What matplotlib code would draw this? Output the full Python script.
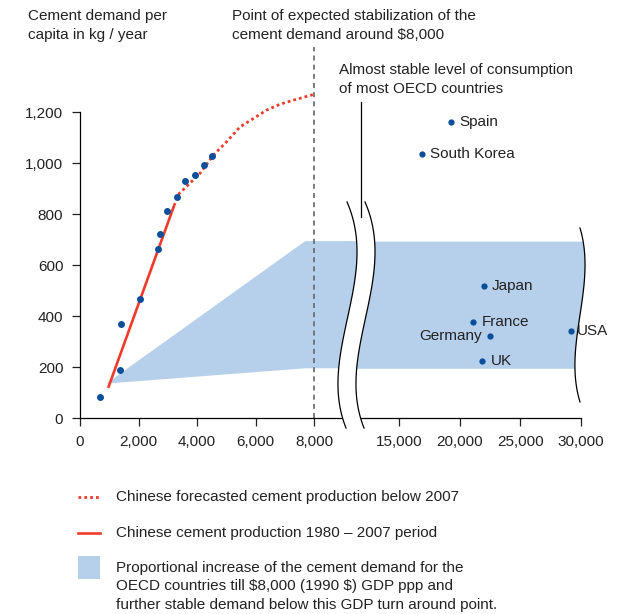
import numpy as np
import matplotlib
matplotlib.use('Agg')
import matplotlib.pyplot as plt
from matplotlib.lines import Line2D
from matplotlib.patches import Polygon, Rectangle
from matplotlib.transforms import Affine2D

plt.rcParams['font.family'] = ['Liberation Sans', 'DejaVu Sans']

# chinese data (GDP per capita, kg cement per capita)
china_gdp = [684, 1379, 1402, 2040, 2678, 2735, 2986, 3305, 3590, 3943, 4239, 4524]
china_demand = [82, 188, 370, 465, 665, 722, 813, 868, 931, 954, 993, 1026]
trend_gdp = [963, 3248]
trend_demand = [118, 843]
forecast_gdp = [3362, 4103, 4558, 5014, 5470, 5926, 6382, 6838, 7293, 7977]
forecast_demand = [877, 960, 1031, 1084, 1142, 1175, 1208, 1231, 1247, 1269]

# OECD band
band_gdp = [900, 7700, 32000]
band_low = [135, 195, 195]
band_high = [135, 694, 694]

# OECD countries
countries = ['Spain', 'South Korea', 'Japan', 'France', 'Germany', 'UK', 'USA']
oecd_gdp = [19287, 16896, 21983, 21100, 22527, 21843, 29204]
oecd_demand = [1161, 1035, 516, 375, 322, 224, 341]

left_ticks = [0, 2000, 4000, 6000, 8000]
right_ticks = [15000, 20000, 25000, 30000]
y_ticks = [0, 200, 400, 600, 800, 1000, 1200]
stab_point = 8000

RED = '#ee3b2b'
BLUE = '#0b4f9c'
BAND = '#b6cfeb'
W, H = 633, 614

fig = plt.figure(figsize=(W / 100, H / 100), dpi=100)
pix = Affine2D().scale(1 / W, -1 / H).translate(0, 1) + fig.transFigure

ax1 = fig.add_axes([80 / W, 1 - 418 / H, 278 / W, 339 / H])
ax2 = fig.add_axes([345 / W, 1 - 418 / H, 255 / W, 339 / H])
ax1.set_xlim(0, 278 / 29.25 * 1000)
ax2.set_xlim(30000 - 236 / 12.13 * 1000, 30000 + 19 / 12.13 * 1000)
for ax in (ax1, ax2):
    ax.set_ylim(0, 1330)
    ax.patch.set_alpha(0)
    for s in ('top', 'right'):
        ax.spines[s].set_visible(False)
    ax.spines['bottom'].set_linewidth(0.9)
    ax.tick_params(direction='out', length=6, width=0.9, labelsize=11, pad=6, colors='#222222')
    ax.fill_between(band_gdp, band_low, band_high, color=BAND, lw=0, zorder=1)

ax1.spines['left'].set_linewidth(0.9)
ax1.spines['left'].set_bounds(0, 1200)
ax1.set_yticks(y_ticks)
ax1.set_yticklabels(['{:,}'.format(v) for v in y_ticks])
ax1.set_xticks(left_ticks)
ax1.set_xticklabels(['{:,}'.format(v) for v in left_ticks])
ax2.spines['left'].set_visible(False)
ax2.set_yticks([])
ax2.spines['bottom'].set_bounds(ax2.get_xlim()[0], 30000)
ax2.set_xticks(right_ticks)
ax2.set_xticklabels(['{:,}'.format(v) for v in right_ticks])

# china
ax1.plot(trend_gdp, trend_demand, color=RED, lw=1.9, solid_capstyle='butt', zorder=3)
ax1.plot(forecast_gdp, forecast_demand, color=RED, lw=2, linestyle=(0, (1, 1.1)),
         clip_on=False, zorder=3)
ax1.plot(china_gdp, china_demand, 'o', color=BLUE, ms=5, mec='none', zorder=4)
ax1.plot([stab_point, stab_point], [0, 1455], color='#666666', lw=1.2,
         linestyle=(0, (3, 2.5)), clip_on=False, zorder=2)

# oecd points
ax2.plot(oecd_gdp, oecd_demand, 'o', color=BLUE, ms=4.5, mec='none', zorder=4, clip_on=False)
for name, gx, gy in zip(countries, oecd_gdp, oecd_demand):
    if name == 'Germany':
        ax2.annotate(name, (gx, gy), xytext=(-6, 0), textcoords='offset points',
                     ha='right', va='center', fontsize=11, color='#222222', zorder=5)
    else:
        ax2.annotate(name, (gx, gy), xytext=(6 if name != 'USA' else 4, 0), textcoords='offset points',
                     ha='left', va='center', fontsize=11, color='#222222', zorder=5,
                     annotation_clip=False)

# wavy right edge of the band
yy = np.linspace(228, 402, 80)
cw = np.polyfit([228, 262, 315, 360, 402], [580, 585, 580, 575, 580], 4)
xw = np.polyval(cw, yy)
cover = np.vstack([np.column_stack([xw, yy]), [[620, 402], [620, 228]]])
ax2.add_patch(Polygon(cover, closed=True, transform=pix, facecolor='white',
                      edgecolor='none', clip_on=False, zorder=2))
ax2.add_line(Line2D(xw, yy, transform=pix, color='black', lw=0.9, clip_on=False, zorder=3))

# axis break
yb = np.linspace(202, 428, 100)
cb = np.polyfit([202, 250, 318, 387, 428], [347, 357, 347.5, 338, 346], 4)
xl = np.polyval(cb, yb)
xr = xl + 18
gap = np.vstack([np.column_stack([xl, yb]), np.column_stack([xr[::-1], yb[::-1]])])
fig.add_artist(Polygon(gap, closed=True, transform=pix, facecolor='white',
                       edgecolor='none', zorder=5))
fig.add_artist(Line2D(xl, yb, transform=pix, color='black', lw=0.9, zorder=6))
fig.add_artist(Line2D(xr, yb, transform=pix, color='black', lw=0.9, zorder=6))
fig.add_artist(Line2D([361, 361], [102, 217], transform=pix, color='black', lw=0.9, zorder=7))

# annotations
txt = dict(fontsize=11, color='#222222', va='top', ha='left', linespacing=1.45)
fig.text(28 / W, 1 - 9 / H, 'Cement demand per\ncapita in kg / year', **txt)
fig.text(232 / W, 1 - 9 / H, 'Point of expected stabilization of the\ncement demand around \\$8,000', **txt)
fig.text(339 / W, 1 - 63 / H, 'Almost stable level of consumption\nof most OECD countries', **txt)

# legend
fig.add_artist(Line2D([78, 100], [497, 497], transform=pix, color=RED, lw=2,
                      linestyle=(0, (1, 1.1))))
fig.add_artist(Line2D([78, 100], [533, 533], transform=pix, color=RED, lw=1.9))
fig.add_artist(Rectangle((78, 579), 22, -23, transform=pix, facecolor=BAND, edgecolor='none'))
leg = dict(fontsize=11, color='#222222', ha='left', linespacing=1.4)
fig.text(116 / W, 1 - 497 / H, 'Chinese forecasted cement production below 2007', va='center', **leg)
fig.text(116 / W, 1 - 533 / H, 'Chinese cement production 1980 \u2013 2007 period', va='center', **leg)
fig.text(116 / W, 1 - 561 / H, 'Proportional increase of the cement demand for the\n'
         'OECD countries till \\$8,000 (1990 \\$) GDP ppp and\n'
         'further stable demand below this GDP turn around point.', va='top', **leg)

fig.savefig('out.png', dpi=100)
